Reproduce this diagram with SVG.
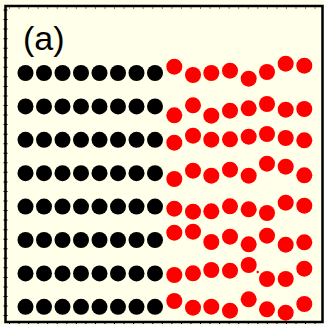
<svg xmlns="http://www.w3.org/2000/svg" width="324" height="325" viewBox="0 0 324 325">
<style>
.frame{fill:#ffffea;stroke:#000;stroke-width:2.5}
.tick{stroke:#000;stroke-width:1;stroke-dasharray:1 8.55;fill:none}
.b{fill:#000}
.r{fill:#ff0000}
.lbl{font-family:"Liberation Sans",Arial,sans-serif;font-size:34px;fill:#000}
</style>
<rect x="0" y="0" width="324" height="325" fill="#ffffea"/>
<rect class="frame" x="5.5" y="6" width="317" height="316"/>
<g id="ticks">
<line class="tick" x1="9" y1="8" x2="322" y2="8" stroke-width="3"/>
<line class="tick" x1="9" y1="323.5" x2="322" y2="323.5" stroke-width="3"/>
<line class="tick" x1="5.5" y1="9.5" x2="5.5" y2="322" style="stroke-width:4"/>
</g>
<text class="lbl" x="23" y="50">(a)</text>
<g id="black">
<g id="brow1"><circle class="b" cx="25.5" cy="73" r="8"/><circle class="b" cx="44" cy="73" r="8"/><circle class="b" cx="62.5" cy="73" r="8"/><circle class="b" cx="81" cy="73" r="8"/><circle class="b" cx="99.5" cy="73" r="8"/><circle class="b" cx="118" cy="73" r="8"/><circle class="b" cx="136.5" cy="73" r="8"/><circle class="b" cx="155" cy="73" r="8"/></g>
<g id="brow2"><circle class="b" cx="25.5" cy="106.4" r="8"/><circle class="b" cx="44" cy="106.4" r="8"/><circle class="b" cx="62.5" cy="106.4" r="8"/><circle class="b" cx="81" cy="106.4" r="8"/><circle class="b" cx="99.5" cy="106.4" r="8"/><circle class="b" cx="118" cy="106.4" r="8"/><circle class="b" cx="136.5" cy="106.4" r="8"/><circle class="b" cx="155" cy="106.4" r="8"/></g>
<g id="brow3"><circle class="b" cx="25.5" cy="139.8" r="8"/><circle class="b" cx="44" cy="139.8" r="8"/><circle class="b" cx="62.5" cy="139.8" r="8"/><circle class="b" cx="81" cy="139.8" r="8"/><circle class="b" cx="99.5" cy="139.8" r="8"/><circle class="b" cx="118" cy="139.8" r="8"/><circle class="b" cx="136.5" cy="139.8" r="8"/><circle class="b" cx="155" cy="139.8" r="8"/></g>
<g id="brow4"><circle class="b" cx="25.5" cy="173.2" r="8"/><circle class="b" cx="44" cy="173.2" r="8"/><circle class="b" cx="62.5" cy="173.2" r="8"/><circle class="b" cx="81" cy="173.2" r="8"/><circle class="b" cx="99.5" cy="173.2" r="8"/><circle class="b" cx="118" cy="173.2" r="8"/><circle class="b" cx="136.5" cy="173.2" r="8"/><circle class="b" cx="155" cy="173.2" r="8"/></g>
<g id="brow5"><circle class="b" cx="25.5" cy="206.6" r="8"/><circle class="b" cx="44" cy="206.6" r="8"/><circle class="b" cx="62.5" cy="206.6" r="8"/><circle class="b" cx="81" cy="206.6" r="8"/><circle class="b" cx="99.5" cy="206.6" r="8"/><circle class="b" cx="118" cy="206.6" r="8"/><circle class="b" cx="136.5" cy="206.6" r="8"/><circle class="b" cx="155" cy="206.6" r="8"/></g>
<g id="brow6"><circle class="b" cx="25.5" cy="240" r="8"/><circle class="b" cx="44" cy="240" r="8"/><circle class="b" cx="62.5" cy="240" r="8"/><circle class="b" cx="81" cy="240" r="8"/><circle class="b" cx="99.5" cy="240" r="8"/><circle class="b" cx="118" cy="240" r="8"/><circle class="b" cx="136.5" cy="240" r="8"/><circle class="b" cx="155" cy="240" r="8"/></g>
<g id="brow7"><circle class="b" cx="25.5" cy="273.4" r="8"/><circle class="b" cx="44" cy="273.4" r="8"/><circle class="b" cx="62.5" cy="273.4" r="8"/><circle class="b" cx="81" cy="273.4" r="8"/><circle class="b" cx="99.5" cy="273.4" r="8"/><circle class="b" cx="118" cy="273.4" r="8"/><circle class="b" cx="136.5" cy="273.4" r="8"/><circle class="b" cx="155" cy="273.4" r="8"/></g>
<g id="brow8"><circle class="b" cx="25.5" cy="306.8" r="8"/><circle class="b" cx="44" cy="306.8" r="8"/><circle class="b" cx="62.5" cy="306.8" r="8"/><circle class="b" cx="81" cy="306.8" r="8"/><circle class="b" cx="99.5" cy="306.8" r="8"/><circle class="b" cx="118" cy="306.8" r="8"/><circle class="b" cx="136.5" cy="306.8" r="8"/><circle class="b" cx="155" cy="306.8" r="8"/></g>
</g>
<g id="red">
<g id="rrow1"><circle class="r" cx="174.3" cy="66.7" r="8"/><circle class="r" cx="193" cy="75" r="8"/><circle class="r" cx="211.3" cy="73" r="8"/><circle class="r" cx="230" cy="70.7" r="8"/><circle class="r" cx="248.7" cy="78.7" r="8"/><circle class="r" cx="267" cy="72" r="8"/><circle class="r" cx="285.7" cy="63.7" r="8"/><circle class="r" cx="304.3" cy="65.7" r="8"/></g>
<g id="rrow2"><circle class="r" cx="174.3" cy="115.3" r="8"/><circle class="r" cx="193" cy="105.3" r="8"/><circle class="r" cx="211.3" cy="115.7" r="8"/><circle class="r" cx="230" cy="110.7" r="8"/><circle class="r" cx="248.7" cy="108.3" r="8"/><circle class="r" cx="267" cy="104" r="8"/><circle class="r" cx="285.7" cy="109.7" r="8"/><circle class="r" cx="304.3" cy="109" r="8"/></g>
<g id="rrow3"><circle class="r" cx="174.3" cy="142.7" r="8"/><circle class="r" cx="193" cy="135.7" r="8"/><circle class="r" cx="211.3" cy="139.7" r="8"/><circle class="r" cx="230" cy="139.3" r="8"/><circle class="r" cx="248.7" cy="136.7" r="8"/><circle class="r" cx="267" cy="134" r="8"/><circle class="r" cx="285.7" cy="138" r="8"/><circle class="r" cx="304.3" cy="140.3" r="8"/></g>
<g id="rrow4"><circle class="r" cx="174.3" cy="179" r="8"/><circle class="r" cx="193" cy="170.7" r="8"/><circle class="r" cx="211.3" cy="175.7" r="8"/><circle class="r" cx="230" cy="169.7" r="8"/><circle class="r" cx="248.7" cy="175.7" r="8"/><circle class="r" cx="267" cy="163.7" r="8"/><circle class="r" cx="285.7" cy="166.7" r="8"/><circle class="r" cx="304.3" cy="175.3" r="8"/></g>
<g id="rrow5"><circle class="r" cx="174.3" cy="208.7" r="8"/><circle class="r" cx="193" cy="211.7" r="8"/><circle class="r" cx="211.3" cy="211.3" r="8"/><circle class="r" cx="230" cy="206.3" r="8"/><circle class="r" cx="248.7" cy="209.3" r="8"/><circle class="r" cx="267" cy="213" r="8"/><circle class="r" cx="285.7" cy="202.7" r="8"/><circle class="r" cx="304.3" cy="205.7" r="8"/></g>
<g id="rrow6"><circle class="r" cx="174.3" cy="232.7" r="8"/><circle class="r" cx="193" cy="231.7" r="8"/><circle class="r" cx="211.3" cy="242" r="8"/><circle class="r" cx="230" cy="236.7" r="8"/><circle class="r" cx="248.7" cy="244.3" r="8"/><circle class="r" cx="267" cy="235.7" r="8"/><circle class="r" cx="285.7" cy="244.7" r="8"/><circle class="r" cx="304.3" cy="242.3" r="8"/></g>
<g id="rrow7"><circle class="r" cx="174.3" cy="275" r="8"/><circle class="r" cx="193" cy="273.3" r="8"/><circle class="r" cx="211.3" cy="270" r="8"/><circle class="r" cx="230" cy="270.7" r="8"/><circle class="r" cx="248.7" cy="265" r="8"/><circle class="r" cx="257.7" cy="272" r="1.2"/><circle class="r" cx="267" cy="279" r="8"/><circle class="r" cx="285.7" cy="279" r="8"/><circle class="r" cx="304.3" cy="268.7" r="8"/></g>
<g id="rrow8"><circle class="r" cx="174.3" cy="301" r="8"/><circle class="r" cx="193" cy="307.7" r="8"/><circle class="r" cx="211.3" cy="306.7" r="8"/><circle class="r" cx="230" cy="310.7" r="8"/><circle class="r" cx="248.7" cy="299.3" r="8"/><circle class="r" cx="267" cy="309.3" r="8"/><circle class="r" cx="285.7" cy="312.7" r="8"/><circle class="r" cx="304.3" cy="304" r="8"/></g>
</g>
</svg>
